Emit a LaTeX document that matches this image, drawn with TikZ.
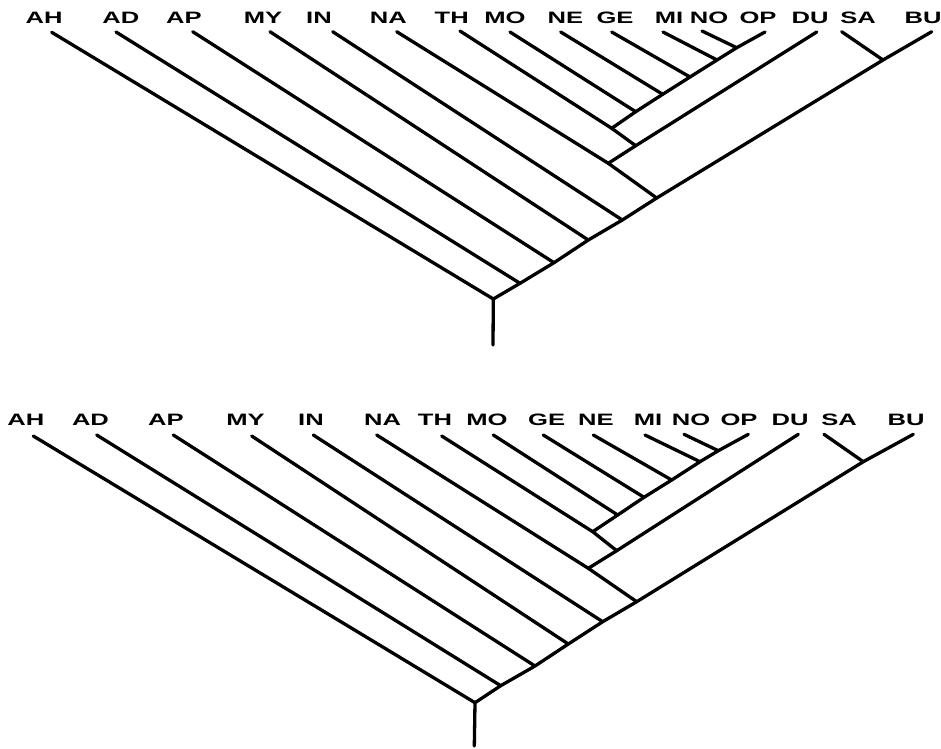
\documentclass[tikz,border=0pt]{standalone}
\usepackage{fontspec}
\usepackage{graphicx}
\newfontfamily\lblfont{Liberation Sans Bold}
\newcommand{\taxlbl}[1]{\scalebox{1.55}[1]{#1}}
\begin{document}
\begin{tikzpicture}[x=1pt,y=-1pt,
  branch/.style={line width=3.3pt, line cap=round, line join=round},
  taxon/.style={font=\lblfont\fontsize{16.5}{18}\selectfont, anchor=base, inner sep=0pt}]
\useasboundingbox (0,0) rectangle (941,748);
% ================= TOP TREE =================
\foreach \n/\x in {AH/44.2,AD/120.8,AP/184,MY/263,IN/319,NA/388.3,TH/451.7,MO/505,NE/565.5,GE/615,MI/669,NO/709,OP/758,DU/810,SA/858,BU/923}
  \node[taxon] (TL\n) at (\x,23.3) {\taxlbl{\n}};
% tips
\coordinate (TtAH) at (51.7,32.3);
\coordinate (TtAD) at (116,32);
\coordinate (TtAP) at (192.7,31.7);
\coordinate (TtMY) at (270,31.7);
\coordinate (TtIN) at (332.7,31.7);
\coordinate (TtNA) at (396.7,31.7);
\coordinate (TtTH) at (460,31);
\coordinate (TtMO) at (510,32);
\coordinate (TtNE) at (560.7,32);
\coordinate (TtGE) at (611.7,32);
\coordinate (TtMI) at (663,32);
\coordinate (TtNO) at (702,31);
\coordinate (TtOP) at (765,32);
\coordinate (TtDU) at (816.7,32);
\coordinate (TtSA) at (841.7,31.7);
\coordinate (TtBU) at (931.7,31.7);
% junctions
\coordinate (TjNO) at (736.7,47.7);
\coordinate (TjMI) at (717,60);
\coordinate (TjGE) at (690,77);
\coordinate (TjNE) at (662.7,94.3);
\coordinate (TjMO) at (635.7,111.7);
\coordinate (TjTH) at (611.7,128.3);
\coordinate (TjDU) at (635.7,145.7);
\coordinate (TjNA) at (608.3,163.3);
\coordinate (TjSA) at (883,60);
\coordinate (TjBU) at (656.7,198);
\coordinate (TjIN) at (622.3,220);
\coordinate (TjMY) at (588.3,240);
\coordinate (TjAP) at (554,262.7);
\coordinate (TjAD) at (520,283.3);
\coordinate (Troot) at (493.3,299);
\coordinate (Tstem) at (493,345);
% branches
\draw[branch] (TtBU) -- (TjSA) -- (TjBU) -- (TjIN) -- (TjMY) -- (TjAP) -- (TjAD) -- (Troot) -- (Tstem);
\draw[branch] (TtSA) -- (TjSA);
\draw[branch] (TtDU) -- (TjDU) -- (TjNA);
\draw[branch] (TtTH) -- (TjTH) -- (TjDU);
\draw[branch] (TtNA) -- (TjNA) -- (TjBU);
\draw[branch] (TtOP) -- (TjNO) -- (TjMI) -- (TjGE) -- (TjNE) -- (TjMO) -- (TjTH);
\draw[branch] (TtNO) -- (TjNO);
\draw[branch] (TtMI) -- (TjMI);
\draw[branch] (TtGE) -- (TjGE);
\draw[branch] (TtNE) -- (TjNE);
\draw[branch] (TtMO) -- (TjMO);
\draw[branch] (TtIN) -- (TjIN);
\draw[branch] (TtMY) -- (TjMY);
\draw[branch] (TtAP) -- (TjAP);
\draw[branch] (TtAD) -- (TjAD);
\draw[branch] (TtAH) -- (Troot);
% ================= BOTTOM TREE =================
\foreach \n/\x in {AH/25.8,AD/90.5,AP/166,MY/245.5,IN/311,NA/382.5,TH/435,MO/487,GE/546.7,NE/595.8,MI/648,NO/691,OP/739,DU/790,SA/839,BU/906}
  \node[taxon] (BL\n) at (\x,425) {\taxlbl{\n}};
\coordinate (BtAH) at (33.3,436);
\coordinate (BtAD) at (96.7,435);
\coordinate (BtAP) at (173.3,435);
\coordinate (BtMY) at (251.7,436);
\coordinate (BtIN) at (313.3,435);
\coordinate (BtNA) at (376.7,435);
\coordinate (BtTH) at (441.7,436);
\coordinate (BtMO) at (493.3,435);
\coordinate (BtGE) at (543.3,435);
\coordinate (BtNE) at (593.3,435);
\coordinate (BtMI) at (645,435);
\coordinate (BtNO) at (684,434.3);
\coordinate (BtOP) at (748.3,434.3);
\coordinate (BtDU) at (798.3,434.3);
\coordinate (BtSA) at (824,434.3);
\coordinate (BtBU) at (913.3,434.3);
\coordinate (BjNO) at (718.3,450.7);
\coordinate (BjMI) at (700,461.7);
\coordinate (BjNE) at (671.7,480);
\coordinate (BjGE) at (644,497.3);
\coordinate (BjMO) at (617.7,515);
\coordinate (BjTH) at (592.7,531.7);
\coordinate (BjDU) at (616.7,550.7);
\coordinate (BjNA) at (588.3,568.3);
\coordinate (BjSA) at (863.3,461.7);
\coordinate (BjBU) at (636.7,601.7);
\coordinate (BjIN) at (602.7,621.7);
\coordinate (BjMY) at (568.3,644);
\coordinate (BjAP) at (535,666);
\coordinate (BjAD) at (500.7,685.7);
\coordinate (Broot) at (475,702.7);
\coordinate (Bstem) at (474.3,746);
\draw[branch] (BtBU) -- (BjSA) -- (BjBU) -- (BjIN) -- (BjMY) -- (BjAP) -- (BjAD) -- (Broot) -- (Bstem);
\draw[branch] (BtSA) -- (BjSA);
\draw[branch] (BtDU) -- (BjDU) -- (BjNA);
\draw[branch] (BtTH) -- (BjTH) -- (BjDU);
\draw[branch] (BtNA) -- (BjNA) -- (BjBU);
\draw[branch] (BtOP) -- (BjNO) -- (BjMI) -- (BjNE) -- (BjGE) -- (BjMO) -- (BjTH);
\draw[branch] (BtNO) -- (BjNO);
\draw[branch] (BtMI) -- (BjMI);
\draw[branch] (BtNE) -- (BjNE);
\draw[branch] (BtGE) -- (BjGE);
\draw[branch] (BtMO) -- (BjMO);
\draw[branch] (BtIN) -- (BjIN);
\draw[branch] (BtMY) -- (BjMY);
\draw[branch] (BtAP) -- (BjAP);
\draw[branch] (BtAD) -- (BjAD);
\draw[branch] (BtAH) -- (Broot);
\end{tikzpicture}
\end{document}
